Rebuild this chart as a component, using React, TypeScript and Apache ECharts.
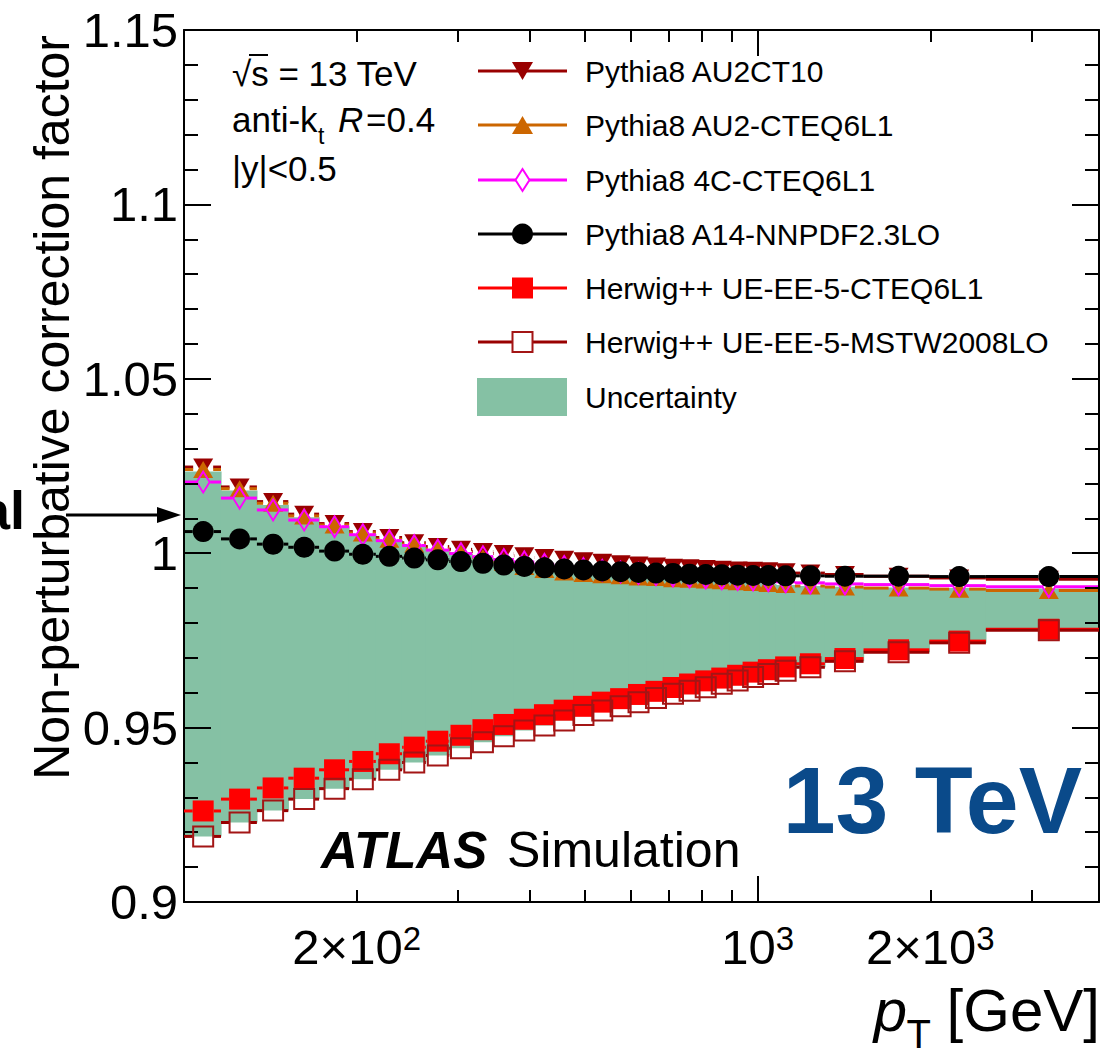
import React, { useEffect, useRef } from "react";
import * as echarts from "echarts";

// ---------------- data ----------------
const binEdges = [
  100, 116, 134, 152, 172, 194, 216, 240, 264, 290, 318, 346, 376, 408, 442, 478, 516, 556, 598, 642,
  688, 736, 786, 838, 894, 952, 1012, 1076, 1162, 1310, 1530, 1992, 2500, 3937,
];

const pythiaAU2CT10 = [
  1.0247, 1.019, 1.0148, 1.0112, 1.0085, 1.0062, 1.0045, 1.003, 1.0019, 1.0011, 1.0005, 0.9999, 0.9993,
  0.9988, 0.9983, 0.9978, 0.9974, 0.997, 0.9966, 0.9963, 0.996, 0.9958, 0.9956, 0.9954, 0.9952, 0.9951,
  0.995, 0.9947, 0.9943, 0.9939, 0.9934, 0.9929, 0.9925,
];
const pythiaAU2CTEQ6L1 = [
  1.024, 1.0185, 1.0143, 1.0107, 1.0081, 1.0058, 1.004, 1.0026, 1.0013, 1.0, 0.9987, 0.9974, 0.9962,
  0.9953, 0.9946, 0.9942, 0.9938, 0.9935, 0.9932, 0.993, 0.9927, 0.9925, 0.9923, 0.9921, 0.9918, 0.9916,
  0.9913, 0.991, 0.9906, 0.9903, 0.99, 0.9897, 0.9893,
];
const pythia4CCTEQ6L1 = [
  1.0204, 1.0158, 1.0124, 1.0095, 1.0076, 1.0053, 1.0036, 1.0022, 1.0009, 0.9999, 0.999, 0.9982, 0.9975,
  0.9968, 0.9962, 0.9956, 0.9951, 0.9946, 0.9942, 0.9938, 0.9935, 0.9932, 0.9929, 0.9927, 0.9925, 0.9923,
  0.9921, 0.9918, 0.9915, 0.9912, 0.991, 0.9907, 0.9904,
];
const pythiaA14NNPDF = [
  1.0062, 1.0041, 1.0026, 1.0017, 1.0006, 0.9997, 0.9991, 0.9986, 0.9981, 0.9976, 0.9971, 0.9966, 0.9962,
  0.9958, 0.9955, 0.9952, 0.9949, 0.9947, 0.9945, 0.9943, 0.9942, 0.994, 0.9939, 0.9938, 0.9937, 0.9936,
  0.9936, 0.9935, 0.9935, 0.9934, 0.9934, 0.9933, 0.9933,
];
const herwigCTEQ6L1 = [
  0.9261, 0.9295, 0.9327, 0.9355, 0.9379, 0.9403, 0.9425, 0.9444, 0.9461, 0.9478, 0.9494, 0.9509, 0.9524,
  0.9537, 0.955, 0.9561, 0.9573, 0.9583, 0.9595, 0.9604, 0.9615, 0.9625, 0.9634, 0.9642, 0.965, 0.9659,
  0.9666, 0.9674, 0.9683, 0.9698, 0.9723, 0.9748, 0.9782,
];
const herwigMSTW = [
  0.9188, 0.9228, 0.9262, 0.9295, 0.9325, 0.9352, 0.9379, 0.94, 0.942, 0.9441, 0.9458, 0.9475, 0.9492,
  0.9506, 0.952, 0.9536, 0.9549, 0.9561, 0.9573, 0.9585, 0.9597, 0.9606, 0.9616, 0.9626, 0.9635, 0.9645,
  0.9654, 0.9663, 0.9673, 0.969, 0.9716, 0.9743, 0.9779,
];
const bandUpper = [
  1.0234, 1.018, 1.0138, 1.0103, 1.0077, 1.0055, 1.0038, 1.0023, 1.001, 0.9998, 0.9985, 0.9972, 0.996,
  0.9951, 0.9945, 0.9941, 0.9937, 0.9934, 0.9931, 0.9929, 0.9926, 0.9924, 0.9922, 0.992, 0.9917, 0.9915,
  0.9912, 0.9909, 0.9906, 0.9904, 0.9902, 0.99, 0.9899,
];
const bandLower = herwigMSTW;

const xTickValues = [200, 300, 400, 500, 600, 700, 800, 900, 2000, 3000];
const xMajorTickValues = [1000];
const xLabelValues = [200, 1000, 2000];
const xLabelBase: Record<number, string> = { 200: "2×10", 1000: "10", 2000: "2×10" };
const xLabelExp: Record<number, string> = { 200: "2", 1000: "3", 2000: "3" };

const seriesNames = [
  "Pythia8 AU2CT10",
  "Pythia8 AU2-CTEQ6L1",
  "Pythia8 4C-CTEQ6L1",
  "Pythia8 A14-NNPDF2.3LO",
  "Herwig++ UE-EE-5-CTEQ6L1",
  "Herwig++ UE-EE-5-MSTW2008LO",
];
const seriesValues = [
  pythiaAU2CT10,
  pythiaAU2CTEQ6L1,
  pythia4CCTEQ6L1,
  pythiaA14NNPDF,
  herwigCTEQ6L1,
  herwigMSTW,
];

// ---------------- styles ----------------
const FONT = "'Liberation Sans', Arial, Helvetica, sans-serif";
const BAND = "#85c1a4";
const styles = [
  { color: "#990000", line: "#990000", shape: "tdown", symbol: "triangle", rotate: 180, size: [20, 17], open: false, half: 10 },
  { color: "#cc6600", line: "#cc6600", shape: "tup", symbol: "triangle", rotate: 0, size: [20, 17], open: false, half: 10 },
  { color: "#ff00ff", line: "#ff00ff", shape: "diamond", symbol: "diamond", rotate: 0, size: [13, 21], open: true, half: 7 },
  { color: "#000000", line: "#000000", shape: "circle", symbol: "circle", rotate: 0, size: 21, open: false, half: 10.5 },
  { color: "#ff0000", line: "#ff0000", shape: "rect", symbol: "rect", rotate: 0, size: 21, open: false, half: 10.5 },
  { color: "#a31515", line: "#990000", shape: "rect", symbol: "rect", rotate: 0, size: 20, open: true, half: 10.5 },
];

function binCenters() {
  return binEdges.slice(0, -1).map((lo, i) => (lo + binEdges[i + 1]) / 2);
}

function barSeries(values: number[], color: string, half: number, z: number) {
  const centers = binCenters();
  return {
    type: "custom",
    silent: true,
    z,
    xAxisIndex: 0,
    yAxisIndex: 0,
    data: values.map((v, i) => [binEdges[i], binEdges[i + 1], centers[i], v]),
    encode: { x: [0, 1, 2], y: 3 },
    renderItem: (_p: any, api: any) => {
      const y = api.value(3);
      const lo = api.coord([api.value(0), y]);
      const hi = api.coord([api.value(1), y]);
      const c = api.coord([api.value(2), y]);
      const children: any[] = [];
      const gl = c[0] - half;
      const gr = c[0] + half;
      if (gl > lo[0]) children.push({ type: "line", shape: { x1: lo[0], y1: lo[1], x2: gl, y2: lo[1] }, style: { stroke: color, lineWidth: 3 } });
      if (hi[0] > gr) children.push({ type: "line", shape: { x1: gr, y1: hi[1], x2: hi[0], y2: hi[1] }, style: { stroke: color, lineWidth: 3 } });
      return { type: "group", children };
    },
  };
}

function markerSeries(name: string, values: number[], st: any, z: number) {
  const centers = binCenters();
  return {
    type: "scatter",
    name,
    z,
    xAxisIndex: 0,
    yAxisIndex: 0,
    silent: true,
    symbol: st.symbol,
    symbolRotate: st.rotate,
    symbolSize: st.size,
    itemStyle: st.open
      ? { color: "rgba(0,0,0,0)", borderColor: st.color, borderWidth: 2, opacity: 1 }
      : { color: st.color, opacity: 1 },
    data: values.map((v, i) => [centers[i], v]),
  };
}

const LEG_X1 = 478;
const LEG_X2 = 567;
const LEG_CX = 522.5;
const LEG_TX = 585;
const LEG_ROWS = [71, 125, 180, 234, 288, 342];

function legendMarker(st: any, cy: number) {
  const cx = LEG_CX;
  switch (st.shape) {
    case "tdown":
      return { type: "polygon", shape: { points: [[cx - 10.5, cy - 9], [cx + 10.5, cy - 9], [cx, cy + 9]] }, style: { fill: st.color } };
    case "tup":
      return { type: "polygon", shape: { points: [[cx - 10.5, cy + 9], [cx + 10.5, cy + 9], [cx, cy - 9]] }, style: { fill: st.color } };
    case "diamond":
      return { type: "polygon", shape: { points: [[cx, cy - 11], [cx + 7, cy], [cx, cy + 11], [cx - 7, cy]] }, style: { fill: "#fff", stroke: st.color, lineWidth: 2 } };
    case "circle":
      return { type: "circle", shape: { cx, cy, r: 10.5 }, style: { fill: st.color } };
    default:
      return st.open
        ? { type: "rect", shape: { x: cx - 10, y: cy - 10, width: 20, height: 20 }, style: { fill: "#fff", stroke: st.color, lineWidth: 2 } }
        : { type: "rect", shape: { x: cx - 10.5, y: cy - 10.5, width: 21, height: 21 }, style: { fill: st.color } };
  }
}

function txt(x: number, y: number, text: string, size: number, extra: any = {}) {
  return {
    type: "text",
    z: 101,
    x,
    y,
    style: { text, fontFamily: FONT, fontSize: size, fill: "#000", verticalAlign: "middle", align: "left", ...extra },
  };
}

function buildGraphic() {
  const els: any[] = [];
  seriesNames.forEach((name, i) => {
    const st = styles[i];
    const cy = LEG_ROWS[i];
    els.push({ type: "line", z: 100, shape: { x1: LEG_X1, y1: cy, x2: LEG_X2, y2: cy }, style: { stroke: st.line, lineWidth: 3 } });
    els.push({ ...legendMarker(st, cy), z: 101 });
    els.push(txt(LEG_TX, cy, name, 30));
  });
  els.push({ type: "rect", z: 100, shape: { x: 477, y: 378, width: 90, height: 38 }, style: { fill: BAND } });
  els.push(txt(LEG_TX, 397, "Uncertainty", 30));

  // top-left annotations
  els.push(txt(232, 73, "√s = 13 TeV", 35));
  els.push({ type: "line", z: 101, shape: { x1: 249, y1: 55, x2: 268, y2: 55 }, style: { stroke: "#000", lineWidth: 2 } });
  els.push(txt(232, 119, "anti-k", 35));
  els.push(txt(318, 136, "t", 23));
  els.push(txt(338, 119, "R", 35, { fontStyle: "italic" }));
  els.push(txt(366, 119, "=0.4", 35));
  els.push(txt(232, 168, "|y|<0.5", 35));

  // ATLAS Simulation
  els.push(txt(321, 850, "ATLAS", 51, { fontWeight: "bold", fontStyle: "italic" }));
  els.push(txt(507, 850, "Simulation", 50));
  // 13 TeV
  els.push(txt(1082, 800, "13 TeV", 95, { fontWeight: "bold", fill: "#0a4a8a", align: "right" }));

  // y axis title
  els.push({
    type: "text", z: 101, x: 52, y: 35, rotation: Math.PI / 2,
    style: { text: "Non-perturbative correction factor", fontFamily: FONT, fontSize: 50, fill: "#000", align: "right", verticalAlign: "middle" },
  });
  // x axis title
  els.push(txt(1100, 1010, "[GeV]", 60, { align: "right" }));
  els.push(txt(931, 1034, "T", 40, { align: "right" }));
  els.push(txt(907, 1010, "p", 60, { align: "right", fontStyle: "italic" }));

  // "Nominal" arrow (cut at the left edge as in the reference)
  els.push(txt(25, 510, "Nominal", 54, { fontWeight: "bold", align: "right" }));
  els.push({ type: "line", z: 101, shape: { x1: 66, y1: 515, x2: 162, y2: 515 }, style: { stroke: "#000", lineWidth: 3 } });
  els.push({ type: "polygon", z: 101, shape: { points: [[157, 507], [181, 515], [157, 523]] }, style: { fill: "#000" } });
  return els;
}

export default function App() {
  const ref = useRef<HTMLDivElement>(null);
  useEffect(() => {
    if (!ref.current) return;
    const chart = echarts.init(ref.current, undefined, { renderer: "svg" });

    const tickLine = { color: "#000", width: 2 };
    const xBase = {
      type: "log",
      logBase: 10,
      min: 100,
      max: 3937,
      gridIndex: 0,
      z: 10,
      splitLine: { show: false },
      minorTick: { show: false },
      minorSplitLine: { show: false },
    };
    const xAxis = [
      {
        ...xBase,
        position: "bottom",
        axisLine: { show: true, onZero: false, lineStyle: tickLine },
        axisTick: { show: true, inside: true, length: 12, customValues: xTickValues, lineStyle: tickLine },
        axisLabel: {
          show: true,
          customValues: xLabelValues,
          margin: 20,
          formatter: (v: number) => {
            const k = Math.round(v);
            return xLabelBase[k] ? `{b|${xLabelBase[k]}}{s|${xLabelExp[k]}}` : "";
          },
          rich: {
            b: { fontFamily: FONT, fontSize: 49, lineHeight: 49, color: "#000" },
            s: { fontFamily: FONT, fontSize: 33, lineHeight: 31, verticalAlign: "top", color: "#000" },
          },
        },
      },
      {
        ...xBase,
        position: "bottom",
        axisLine: { show: false, onZero: false },
        axisTick: { show: true, inside: true, length: 26, customValues: xMajorTickValues, lineStyle: tickLine },
        axisLabel: { show: false },
      },
      {
        ...xBase,
        position: "top",
        axisLine: { show: true, onZero: false, lineStyle: tickLine },
        axisTick: { show: true, inside: true, length: 12, customValues: xTickValues, lineStyle: tickLine },
        axisLabel: { show: false },
      },
      {
        ...xBase,
        position: "top",
        axisLine: { show: false, onZero: false },
        axisTick: { show: true, inside: true, length: 26, customValues: xMajorTickValues, lineStyle: tickLine },
        axisLabel: { show: false },
      },
    ];
    const yBase = {
      type: "value",
      min: 0.9,
      max: 1.15,
      interval: 0.05,
      z: 10,
      splitLine: { show: false },
      minorSplitLine: { show: false },
      axisLine: { show: true, onZero: false, lineStyle: tickLine },
      axisTick: { show: true, inside: true, length: 27, lineStyle: tickLine },
      minorTick: { show: true, splitNumber: 5, length: 14, lineStyle: tickLine },
    };
    const yAxis = [
      {
        ...yBase,
        position: "left",
        axisLabel: { show: true, fontFamily: FONT, fontSize: 49, color: "#000", margin: 6 },
      },
      { ...yBase, position: "right", axisLabel: { show: false } },
    ];

    const series: any[] = [
      {
        type: "custom",
        silent: true,
        z: 1,
        xAxisIndex: 0,
        yAxisIndex: 0,
        data: bandUpper.map((u, i) => [binEdges[i], binEdges[i + 1], bandLower[i], u]),
        encode: { x: [0, 1], y: [2, 3] },
        renderItem: (_p: any, api: any) => {
          const p1 = api.coord([api.value(0), api.value(3)]);
          const p2 = api.coord([api.value(1), api.value(2)]);
          return {
            type: "rect",
            shape: { x: p1[0] - 0.6, y: p1[1], width: p2[0] - p1[0] + 1.2, height: p2[1] - p1[1] },
            style: { fill: BAND },
          };
        },
      },
    ];
    seriesNames.forEach((name, i) => {
      const st = styles[i];
      series.push(barSeries(seriesValues[i], st.line, st.half, 3 + i * 2));
      series.push(markerSeries(name, seriesValues[i], st, 4 + i * 2));
    });

    chart.setOption({
      animation: false,
      backgroundColor: "#ffffff",
      grid: { left: 184, right: 20, top: 30, bottom: 153, containLabel: false },
      xAxis,
      yAxis,
      series,
      graphic: buildGraphic(),
    } as any);
    return () => chart.dispose();
  }, []);
  return <div ref={ref} style={{ position: "absolute", left: 0, top: 0, width: 1119, height: 1055 }} />;
}
